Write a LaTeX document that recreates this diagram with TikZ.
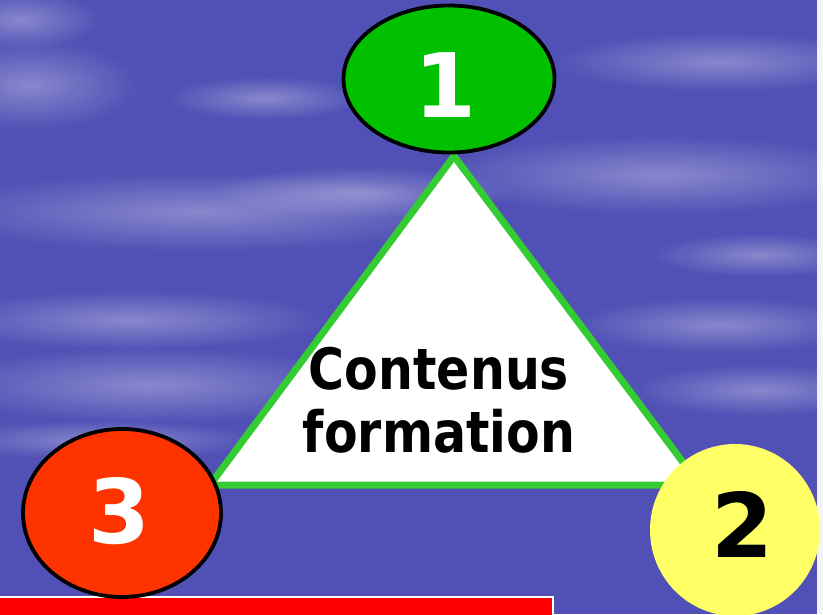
\documentclass[tikz,border=0pt]{standalone}
\usepackage{fontspec}
\usetikzlibrary{shapes.geometric,fadings}
\newfontfamily\tfont[FakeStretch=0.86]{DejaVu Sans}
\newfontfamily\dfont{DejaVu Sans}
\definecolor{skyblue}{HTML}{5050B6}
\definecolor{trigreen}{HTML}{33CC33}
\definecolor{nodegreen}{HTML}{00C000}
\definecolor{nodered}{HTML}{FF3300}
\definecolor{nodeyellow}{HTML}{FFFF66}
\definecolor{barred}{HTML}{FF0000}
\tikzfading[name=cloudfade, inner color=transparent!0, outer color=transparent!100]
\tikzset{
  cloud/.style={fill=white, fill opacity=0.32, path fading=cloudfade},
  numnode/.style={shape=ellipse, inner sep=0pt},
  digit/.style={font=\dfont\bfseries\fontsize{89}{89}\selectfont, anchor=base, inner sep=0pt},
}
\begin{document}
\begin{tikzpicture}[x=1pt,y=-1pt]
\useasboundingbox (0,0) rectangle (823,614);
% sky background
\fill[skyblue] (0,0) rectangle (823,614);
\fill[cloud] (30,85) ellipse [x radius=110pt, y radius=45pt];
\fill[cloud] (20,20) ellipse [x radius=80pt, y radius=30pt];
\fill[cloud] (265,98) ellipse [x radius=100pt, y radius=22pt];
\fill[cloud] (200,212) ellipse [x radius=280pt, y radius=40pt];
\fill[cloud] (360,192) ellipse [x radius=150pt, y radius=26pt];
\fill[cloud] (720,62) ellipse [x radius=170pt, y radius=30pt];
\fill[cloud] (660,175) ellipse [x radius=230pt, y radius=40pt];
\fill[cloud] (150,385) ellipse [x radius=220pt, y radius=38pt];
\fill[cloud] (130,320) ellipse [x radius=200pt, y radius=30pt];
\fill[cloud] (760,390) ellipse [x radius=130pt, y radius=26pt];
\fill[cloud] (720,325) ellipse [x radius=150pt, y radius=28pt];
\fill[cloud] (100,440) ellipse [x radius=160pt, y radius=20pt];
\fill[cloud] (760,255) ellipse [x radius=110pt, y radius=22pt];
\fill[white!93!skyblue] (817,0) rectangle (823,614);
% triangle
\coordinate (apex) at (454,156);
\coordinate (bl) at (210,485);
\coordinate (br) at (700,485);
\draw[trigreen, line width=7pt, fill=white, line join=miter] (apex) -- (br) -- (bl) -- cycle;
\node[font=\tfont\bfseries\fontsize{57}{63}\selectfont, align=center, anchor=base, inner sep=0pt] (label) at (439,452) {Contenus\\formation};
% red bar
\fill[barred] (0,597) rectangle (553,616);
\draw[white, line width=2pt] (0,597) -- (553,597) -- (553,616);
% numbered ellipses
\node[numnode, fill=nodegreen, draw=black, line width=3.8pt, minimum width=211pt, minimum height=147pt] (n1) at (449,79) {};
\node[digit, white] (d1) at (445,117) {1};
\node[numnode, fill=nodered, draw=black, line width=3.8pt, minimum width=198pt, minimum height=168pt] (n3) at (122,513) {};
\node[digit, white] (d3) at (119,543) {3};
\node[numnode, fill=nodeyellow, minimum width=170pt, minimum height=172pt] (n2) at (735,530) {};
\node[digit, black] (d2) at (742,557) {2};
\end{tikzpicture}
\end{document}
